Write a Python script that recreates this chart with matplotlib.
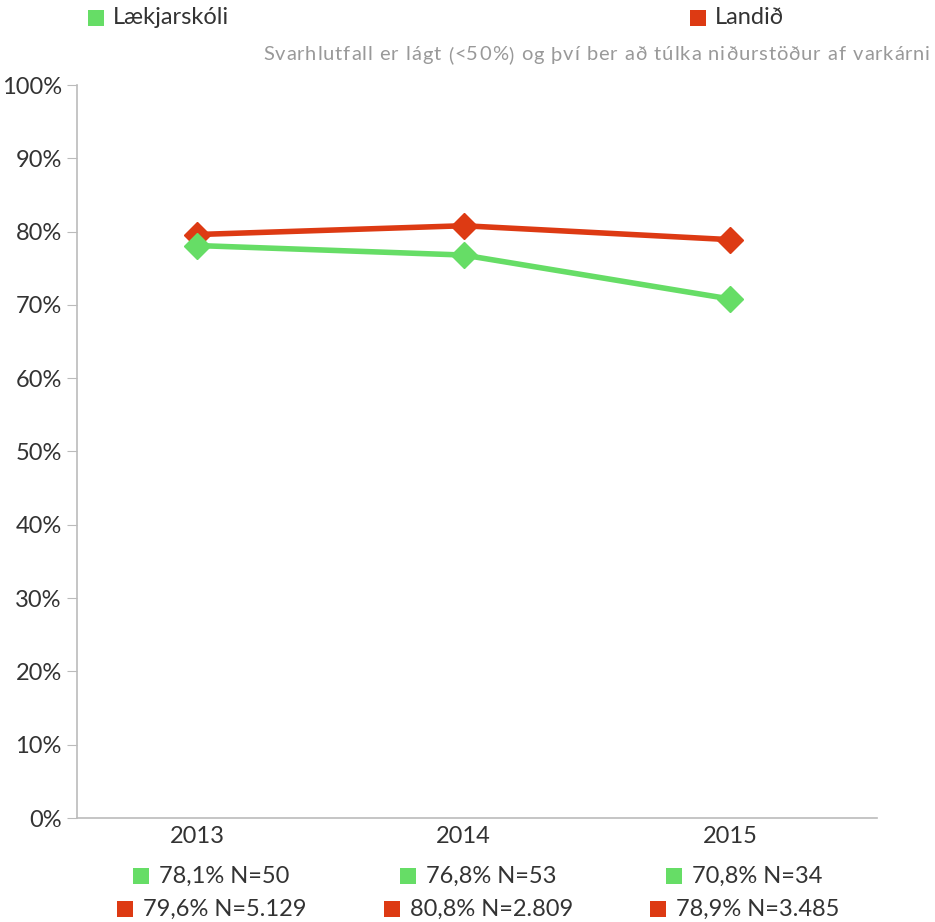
import matplotlib
matplotlib.use("Agg")
import matplotlib.pyplot as plt
from matplotlib.patches import Rectangle
from matplotlib.ticker import FixedLocator

plt.rcParams['font.family'] = ['Lato', 'DejaVu Sans']

years = ["2013", "2014", "2015"]
school_name = "Lækjarskóli"
country_name = "Landið"
school_pct = [78.1, 76.8, 70.8]
country_pct = [79.6, 80.8, 78.9]
school_n = ["50", "53", "34"]
country_n = ["5.129", "2.809", "3.485"]
note = "Svarhlutfall er lágt (<50%) og því ber að túlka niðurstöður af varkárni"

GREEN = "#66dd66"
RED = "#dd3a13"
TEXT = "#333333"
AXIS = "#bbbbbb"
FS = 17

W, H = 935, 922
fig = plt.figure(figsize=(W / 100, H / 100), dpi=100)
ax = fig.add_axes([77 / W, 1 - 818 / H, (877 - 77) / W, (818 - 85) / H])

x = list(range(len(years)))
ax.plot(x, country_pct, color=RED, lw=4, marker="D", ms=13, zorder=3)
ax.plot(x, school_pct, color=GREEN, lw=4, marker="D", ms=13, zorder=4)

ax.set_xlim(-0.45, 2.55)
ax.set_ylim(0, 100)
ax.yaxis.set_major_locator(FixedLocator(range(0, 101, 10)))
ax.set_yticklabels([f"{v}%" for v in range(0, 101, 10)])
ax.set_xticks(x)
ax.set_xticklabels(years)

for s in ["top", "right"]:
    ax.spines[s].set_visible(False)
for s in ["left", "bottom"]:
    ax.spines[s].set_color(AXIS)
    ax.spines[s].set_linewidth(1.2)
ax.tick_params(axis="y", length=7, color=AXIS, labelsize=FS, labelcolor=TEXT, pad=4)
ax.tick_params(axis="x", length=0, labelsize=FS, labelcolor=TEXT, pad=6)


def px(xp, yp):
    return xp / W, 1 - yp / H


def square_label(xp, yp, color, text, gap=10, size=16):
    # coloured square (left edge xp, vertical centre yp) followed by a label
    x0, y0 = px(xp, yp + size / 2)
    fig.add_artist(Rectangle((x0, y0), size / W, size / H, transform=fig.transFigure,
                             facecolor=color, edgecolor="none"))
    fig.text(*px(xp + size + gap, yp), text, color=TEXT, fontsize=FS,
             va="center", ha="left")


square_label(88, 18, GREEN, school_name, gap=9)
square_label(690, 18, RED, country_name, gap=9)

# note line, spread out with extra tracking between characters
renderer = fig.canvas.get_renderer()
note_right, note_width, note_y = 930, 667, 55
chars = []
natural = 0.0
for ch in note:
    t = fig.text(0, 0, ch, fontsize=14.5, color="#999999")
    if ch == " ":
        t.set_text("a")
        w = t.get_window_extent(renderer).width * 0.55
        t.set_text(" ")
    else:
        w = t.get_window_extent(renderer).width
    chars.append((t, w))
    natural += w
track = (note_width - natural) / (len(note) - 1)
cur = note_right - note_width
for t, w in chars:
    t.set_position(px(cur, note_y))
    t.set_va("center")
    cur += w + track

# per-year value rows under the axis
for i in range(len(years)):
    xc = ax.transData.transform((i, 0))[0]
    square_label(xc - 64, 876, GREEN,
                 f"{school_pct[i]:.1f}%".replace(".", ",") + f" N={school_n[i]}", gap=10)
    square_label(xc - 80, 909, RED,
                 f"{country_pct[i]:.1f}%".replace(".", ",") + f" N={country_n[i]}", gap=10)

fig.savefig("out.png", dpi=100, facecolor="white")
